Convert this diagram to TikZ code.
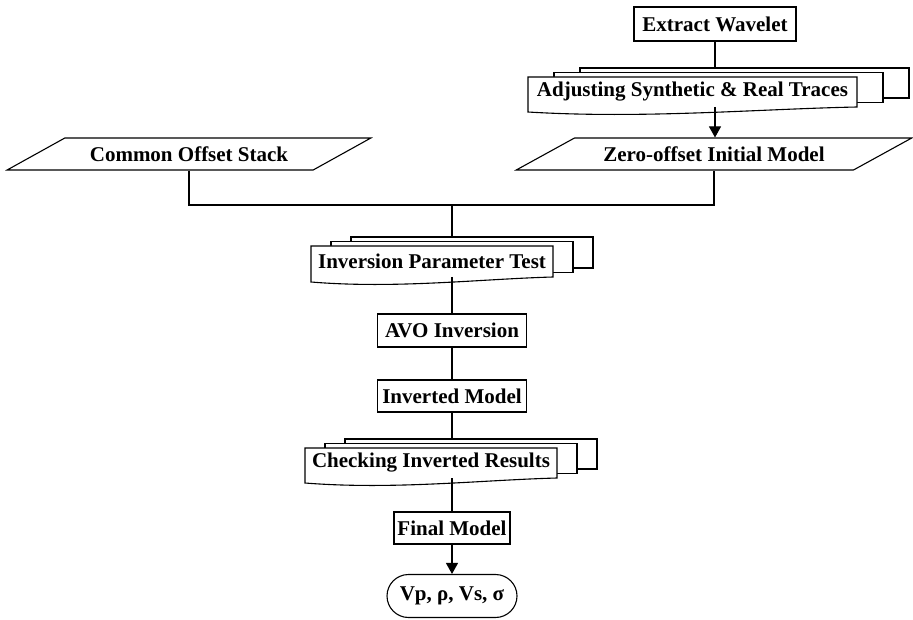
\documentclass[tikz,border=0pt]{standalone}
\usepackage{fontspec}
\setmainfont{Liberation Serif}
\usetikzlibrary{arrows.meta,shapes.geometric,shapes.misc,positioning,fit,backgrounds,calc}

% stacked documents behind a node: #1 node, #2 x step, #3 y step
\newcommand{\docstack}[3]{%
  \begin{scope}[on background layer]
    \foreach \k in {2,1}
      \node[doclayer, fit=(#1), xshift=\k*#2, yshift=\k*#3] (#1-\k) {};
    \draw[fill=white] (#1.north west) -- (#1.north east) -- (#1.south east)
      .. controls ($(#1.south east)!0.3!(#1.south west)+(0,2)$)
      and ($(#1.south west)!0.35!(#1.south east)+(0,12)$) .. ($(#1.south west)+(0,5)$) -- cycle;
  \end{scope}}

\begin{document}
\begin{tikzpicture}[x=1pt, y=-1pt, line width=1.1pt,
  every on background layer/.style={line width=1.1pt},
  font=\bfseries\fontsize{21}{24}\selectfont,
  procbox/.style={draw, inner sep=2pt, minimum height=33pt},
  inout/.style={draw, trapezium, trapezium left angle=22, trapezium right angle=158,
    trapezium stretches=true, inner sep=2pt, minimum height=32pt},
  doc/.style={inner sep=0pt, outer sep=0pt, minimum height=30pt},
  doclayer/.style={draw, fill=white, inner sep=0pt, outer sep=0pt},
  term/.style={draw, rounded rectangle, inner sep=2pt, minimum height=43pt},
  arr/.style={-{Triangle[width=12pt,length=11pt]}}]
\useasboundingbox (0,0) rectangle (913,620);

\node[procbox, minimum width=162pt, minimum height=34pt] (ew) at (715,24) {Extract Wavelet};
\node[doc, minimum width=329pt] (adj) at (692.5,92) {Adjusting Synthetic \& Real Traces};
\docstack{adj}{26}{4.5}
\node[inout, minimum width=364pt] (cos) at (189,154) {Common Offset Stack};
\node[inout, minimum width=396pt] (zo) at (714,154) {Zero-offset Initial Model};
\coordinate (join) at (452,205);
\node[doc, minimum width=242pt, minimum height=31pt] (ipt) at (432,261.5) {Inversion Parameter Test};
\docstack{ipt}{20}{4.5}
\node[procbox, minimum width=149pt] (avo) at (452,330.5) {AVO Inversion};
\node[procbox, minimum width=149pt, minimum height=32pt] (im) at (452,396) {Inverted Model};
\node[doc, minimum width=252pt] (cir) at (431,463) {Checking Inverted Results};
\docstack{cir}{20}{4.5}
\node[procbox, minimum width=116pt, minimum height=32pt] (fm) at (452,528) {Final Model};
\node[term, minimum width=134pt] (out) at (452,596) {Vp, ρ, Vs, σ};

\draw (ew) -- (ew |- adj-2.north);
\draw[arr] (adj.south -| ew) -- (zo.north -| ew);
\draw (cos.south) |- (join) -| (zo.south);
\draw (join) -- (join |- ipt-2.north);
\draw (ipt.south -| avo) -- (avo);
\draw (avo) -- (im);
\draw (im) -- (im |- cir-2.north);
\draw (cir.south -| fm) -- (fm);
\draw[arr] (fm) -- (out);
\end{tikzpicture}
\end{document}
